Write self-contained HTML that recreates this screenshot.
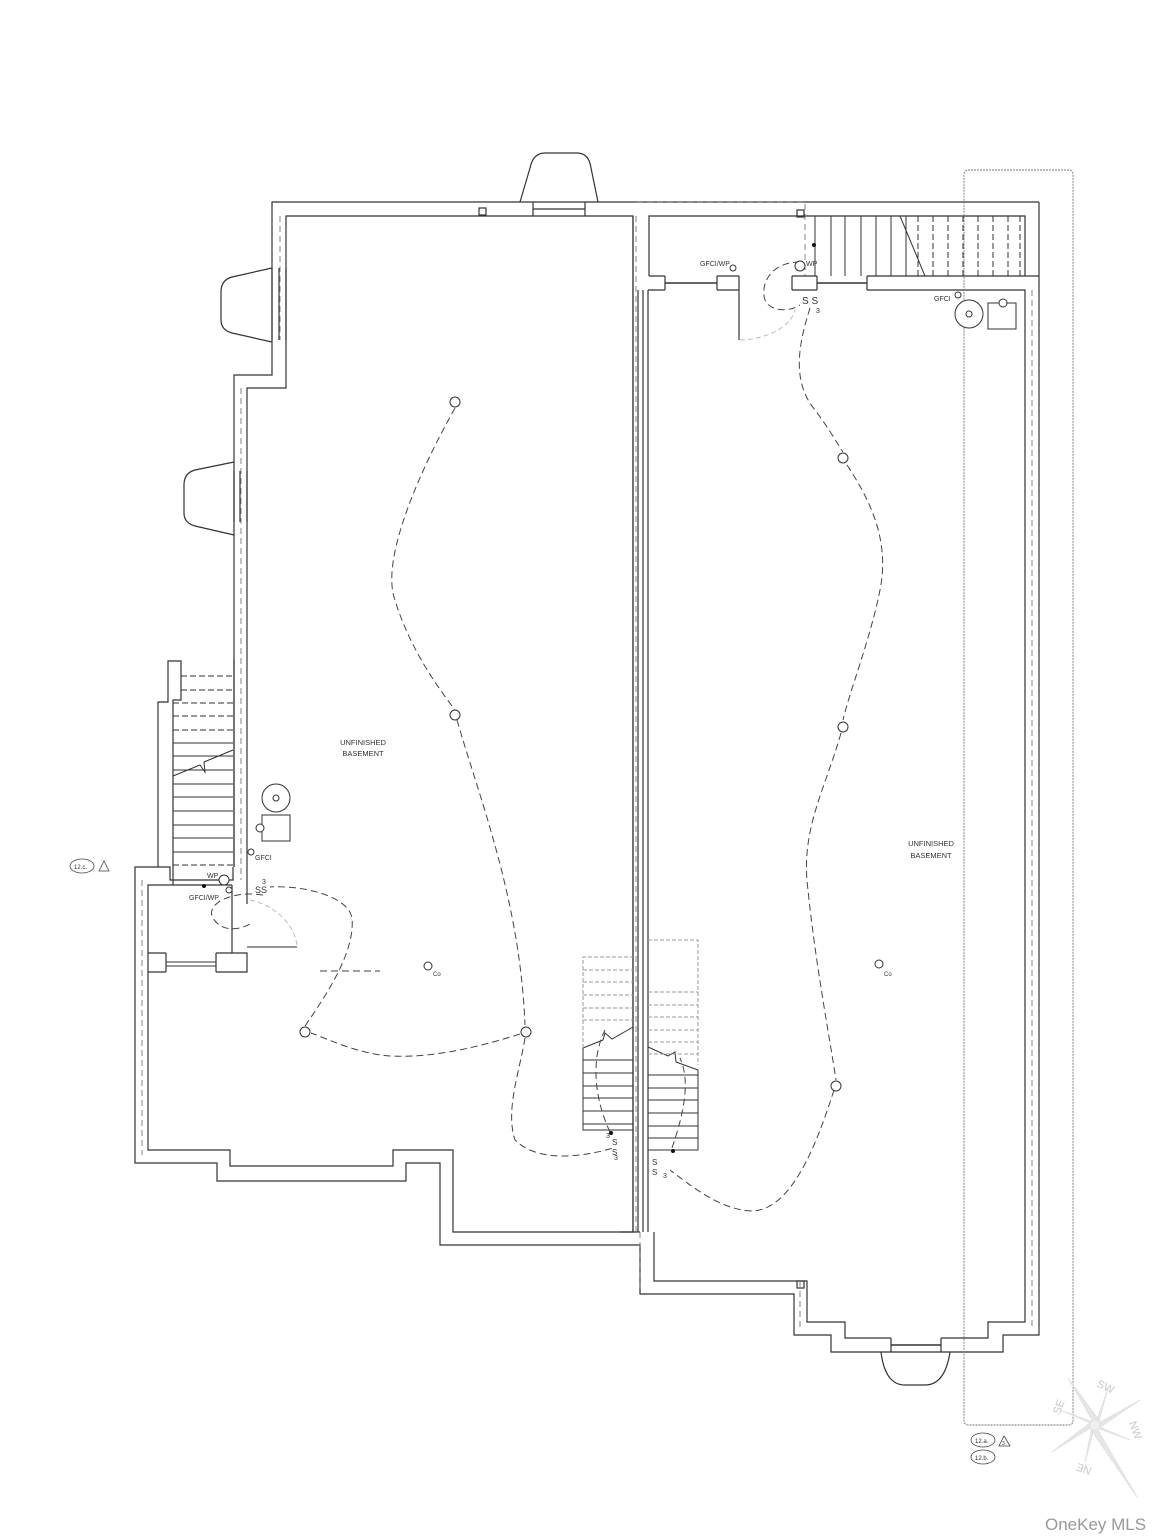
<!DOCTYPE html>
<html><head><meta charset="utf-8"><style>
html,body{margin:0;padding:0;background:#fff;}
svg{display:block;}
text{font-family:"Liberation Sans",sans-serif;fill:#333;}
text.cp{fill:#c8c8c8;}
</style></head><body>
<svg width="1166" height="1536" viewBox="0 0 1166 1536" xmlns="http://www.w3.org/2000/svg">
<g fill="none" stroke="#333" stroke-width="1.2">
<path d="M1039,202 H272 V375 H234 V867"/>
<path d="M158,867 H135 V1163 H217 V1181 H406 V1163 H440 V1245 H640 V1294 H794 V1335 H831 V1352 H1003 V1335 H1039 V202"/>
<path d="M247,904 V388 H286 V216 H633 V1232 H453 V1150 H393 V1166 H230 V1150 H148 V972 H166"/>
<path d="M216,972 H247 V953 H232 V885"/>
<path d="M148,972 V885 H232"/>
<path d="M166,962 H216 M166,966 H216" stroke-width="1"/>
<path d="M166,953 V972 M216,953 V972"/>
<path d="M148,953 H166 M216,953 H232"/>
<path d="M247,947 H297" stroke="#555"/>
<path d="M638,290 V1232 M643,290 V1232 M648,290 V1232"/>
<path d="M633,216 V1232"/>
<path d="M620,1232 H640"/>
<path d="M648,290 H665 M717,290 H739 M792,290 H817 M867,290 H1025 V1322 H988 V1338 H941 M891,1338 H845 V1322 H807 V1281 H654 V1232"/>
<path d="M649,276 V216 H1025 V276"/>
<path d="M649,276 H665 M717,276 H739 M792,276 H817 M867,276 H1039"/>
<path d="M665,276 V290 M717,276 V290 M739,276 V290 M792,276 V290 M817,276 V290 M867,276 V290"/>
<path d="M665,283 H717 M817,283 H867 M891,1345 H941" stroke-width="1.6"/>
<path d="M891,1338 V1352 M941,1338 V1352"/>
<path d="M739,290 V340"/>
<path d="M520,202 L530,168 Q533,153 545,153 H577 Q589,153 591,168 L598,202"/>
<path d="M533,202 V216 M585,202 V216 M533,209 H585" />
<path d="M272,268 L232,277 Q221,280 221,292 V320 Q221,330 232,333 L272,342"/>
<path d="M272,268 V340 M286,268 V340 M279,268 V340"/>
<path d="M234,462 L195,470 Q184,473 184,485 V513 Q184,523 195,526 L234,535"/>
<path d="M234,471 V522 M247,471 V522 M240,471 V522"/>
<path d="M881,1352 Q885,1385 905,1385 H925 Q945,1385 950,1352"/>
<path d="M234,660 V867 M158,867 V702 H168 V661 H181 V700 H173 V885"/>
<path d="M158,867 H170 V880 H233 V867"/>
<rect x="479" y="208" width="7" height="7"/>
<rect x="797" y="1281" width="7" height="7"/>
<rect x="797" y="210" width="7" height="7"/>
</g>
<g stroke="#333" stroke-width="1">
<path d="M173,743 H233 M173,756 H233 M173,770 H233 M173,784 H233 M173,797 H233 M173,811 H233 M173,825 H233 M173,838 H233 M173,852 H233"/>
<path d="M181,676 H233 M181,690 H233 M173,703 H233 M173,716 H233 M173,730 H233 M173,865 H233" stroke-dasharray="6,3"/>
<path d="M173,776 L200,765 L205,772 L204,762 L233,750" fill="none"/>
<path d="M815,216 V276 M831,216 V276 M845,216 V276 M861,216 V276 M876,216 V276 M891,216 V276 M906,216 V276"/>
<path d="M918,216 V276 M933,216 V276 M948,216 V276 M963,216 V276 M978,216 V276 M993,216 V276 M1008,216 V276 M1020,216 V276" stroke-dasharray="6,3"/>
<path d="M900,216 L925,276" fill="none"/>
<path d="M583,1048 V1130 H633 M583,1060 H633 M583,1073 H633 M583,1086 H633 M583,1098 H633 M583,1111 H633 M583,1124 H633" fill="none"/>
<path d="M583,1048 L603,1040 L605,1033 L612,1039 L633,1027" fill="none"/>
<path d="M583,1048 V957 H633 M583,970 H633 M583,982 H633 M583,995 H633 M583,1008 H633 M583,1020 H633" stroke="#999" stroke-dasharray="4,2" fill="none"/>
<path d="M648,1047 L668,1056 L675,1052 L676,1062 L698,1070 V1150 H648 M648,1075 H698 M648,1088 H698 M648,1100 H698 M648,1113 H698 M648,1126 H698 M648,1138 H698" fill="none"/>
<path d="M648,940 H698 V1065 M648,992 H698 M648,1005 H698 M648,1017 H698 M648,1030 H698 M648,1042 H698 M648,1054 H698" stroke="#999" stroke-dasharray="4,2" fill="none"/>
</g>
<g stroke="#666" stroke-width="0.8" stroke-dasharray="6,4" fill="none">
<path d="M280,216 V340 M241,388 V880 M142,880 V1155 M640,1232 V1290 M1032,290 V1330 M800,1281 V1330"/>
<path d="M636,216 V1232" />
<path d="M637,202 H805 V276"/>
</g>
<rect x="964" y="170" width="109" height="1255" rx="4" fill="none" stroke="#777" stroke-width="0.9" stroke-dasharray="2,1"/>
<g fill="none" stroke="#444" stroke-width="1" stroke-dasharray="7,4">
<path d="M455,408 C420,470 380,560 395,600 C410,650 440,690 455,710"/>
<path d="M457,720 C480,800 520,900 525,1025"/>
<path d="M520,1034 C470,1050 420,1060 380,1055 C350,1050 330,1040 311,1033"/>
<path d="M305,1026 C330,990 355,950 352,918 C348,895 300,885 270,887"/>
<path d="M525,1038 C520,1070 505,1110 515,1140 C540,1165 590,1155 613,1148"/>
<path d="M263,895 C230,890 205,905 213,918 C220,930 235,932 250,924"/>
<path d="M610,1132 C595,1100 590,1060 605,1030"/>
<path d="M672,1148 C685,1110 690,1080 680,1058"/>
<path d="M810,308 C800,340 790,380 815,410 C830,430 838,445 843,452"/>
<path d="M847,465 C870,500 890,540 880,590 C870,640 850,690 843,720"/>
<path d="M841,733 C825,790 800,830 808,890 C815,960 830,1040 836,1080"/>
<path d="M834,1090 C815,1150 790,1210 752,1211 C720,1210 690,1185 670,1170"/>
<path d="M800,262 C770,262 760,285 765,300 C770,312 790,312 800,305"/>
</g>
<path d="M740,340 C760,340 790,330 795,310" fill="none" stroke="#bbb" stroke-dasharray="5,3"/>
<path d="M250,900 C275,905 295,925 297,946" fill="none" stroke="#bbb" stroke-dasharray="5,3"/>
<path d="M320,971 H380" stroke="#444" stroke-dasharray="7,4"/>
<g fill="#fff" stroke="#333" stroke-width="1">
<circle cx="455" cy="402" r="5"/><circle cx="455" cy="715" r="5"/>
<circle cx="526" cy="1032" r="5"/><circle cx="305" cy="1032" r="5"/>
<circle cx="843" cy="458" r="5"/><circle cx="843" cy="727" r="5"/>
<circle cx="836" cy="1086" r="5"/>
<circle cx="428" cy="966" r="4"/><circle cx="879" cy="964" r="4"/>
<circle cx="800" cy="266" r="5"/><circle cx="224" cy="880" r="5"/>
<circle cx="276" cy="798" r="14"/><circle cx="276" cy="798" r="3"/>
<circle cx="969" cy="314" r="14"/><circle cx="969" cy="314" r="3"/>
<rect x="262" y="815" width="28" height="26"/>
<rect x="988" y="303" width="28" height="26"/>
<circle cx="260" cy="828" r="4"/><circle cx="1003" cy="303" r="4"/>
<circle cx="251" cy="852" r="3"/><circle cx="958" cy="295" r="3"/>
<circle cx="733" cy="268" r="3"/><circle cx="229" cy="890" r="3"/>
</g>
<g fill="#111"><circle cx="814" cy="245" r="2"/><circle cx="204" cy="886" r="2"/><circle cx="611" cy="1133" r="2"/><circle cx="673" cy="1151" r="2"/></g>
<g font-size="7.5" text-anchor="middle">
<text x="363" y="745">UNFINISHED</text><text x="363" y="756">BASEMENT</text>
<text x="931" y="846">UNFINISHED</text><text x="931" y="858">BASEMENT</text>
</g>
<g font-size="7">
<text x="700" y="266">GFCI/WP</text><text x="806" y="266">WP</text>
<text x="934" y="301">GFCI</text><text x="255" y="860">GFCI</text>
<text x="189" y="900">GFCI/WP</text><text x="207" y="878">WP</text>
<text x="816" y="313">3</text><text x="262" y="884">3</text>
<text x="433" y="976" font-size="6">Co</text><text x="884" y="976" font-size="6">Co</text>
<text x="802" y="304" font-size="10">S S</text>
<text x="255" y="893" font-size="9">SS</text>
<text x="612" y="1145" font-size="8">S</text><text x="612" y="1155" font-size="8">S</text>
<text x="652" y="1165" font-size="8">S</text><text x="652" y="1175" font-size="8">S</text>
<text x="606" y="1138" font-size="7">3</text><text x="614" y="1160" font-size="7">3</text>
<text x="663" y="1178" font-size="7">3</text>
</g>
<g fill="none" stroke="#444" stroke-width="0.8">
<ellipse cx="82" cy="866" rx="12" ry="7"/><path d="M99,871 L104,861 L109,871 Z"/>
<ellipse cx="983" cy="1440" rx="12" ry="7"/><path d="M999,1446 L1004,1436 L1010,1446 Z"/>
<ellipse cx="983" cy="1457" rx="12" ry="7"/>
</g>
<g font-size="6"><text x="74" y="869">12.c.</text><text x="975" y="1443">12.a.</text><text x="975" y="1460">12.b.</text><text x="1002" y="1445" font-size="5">3</text></g>
<g stroke="#e0e0e0" stroke-width="0.8" fill="#e6e6e6">
<path d="M1095,1425 L1068,1378 L1099,1420 Z"/><path d="M1095,1425 L1137,1497 L1091,1430 Z"/>
<path d="M1095,1425 L1140,1400 L1099,1428 Z"/><path d="M1095,1425 L1052,1452 L1091,1422 Z"/>
<path d="M1095,1425 L1108,1388 L1098,1425 Z"/><path d="M1095,1425 L1085,1463 L1092,1425 Z"/>
<path d="M1095,1425 L1060,1410 L1093,1422 Z"/><path d="M1095,1425 L1130,1440 L1097,1428 Z"/>
<circle cx="1095" cy="1425" r="5" fill="#f0f0f0"/>
</g>
<g font-size="11">
<text class="cp" x="1097" y="1390" transform="rotate(25 1105 1386)">SW</text>
<text class="cp" x="1128" y="1432" transform="rotate(70 1135 1428)">NW</text>
<text class="cp" x="1052" y="1412" transform="rotate(-70 1058 1408)">SE</text>
<text class="cp" x="1075" y="1475" transform="rotate(200 1083 1470)">NE</text>
</g>
<text x="1045" y="1530" font-size="17" style="fill:#999">OneKey MLS</text>
</svg>
</body></html>
